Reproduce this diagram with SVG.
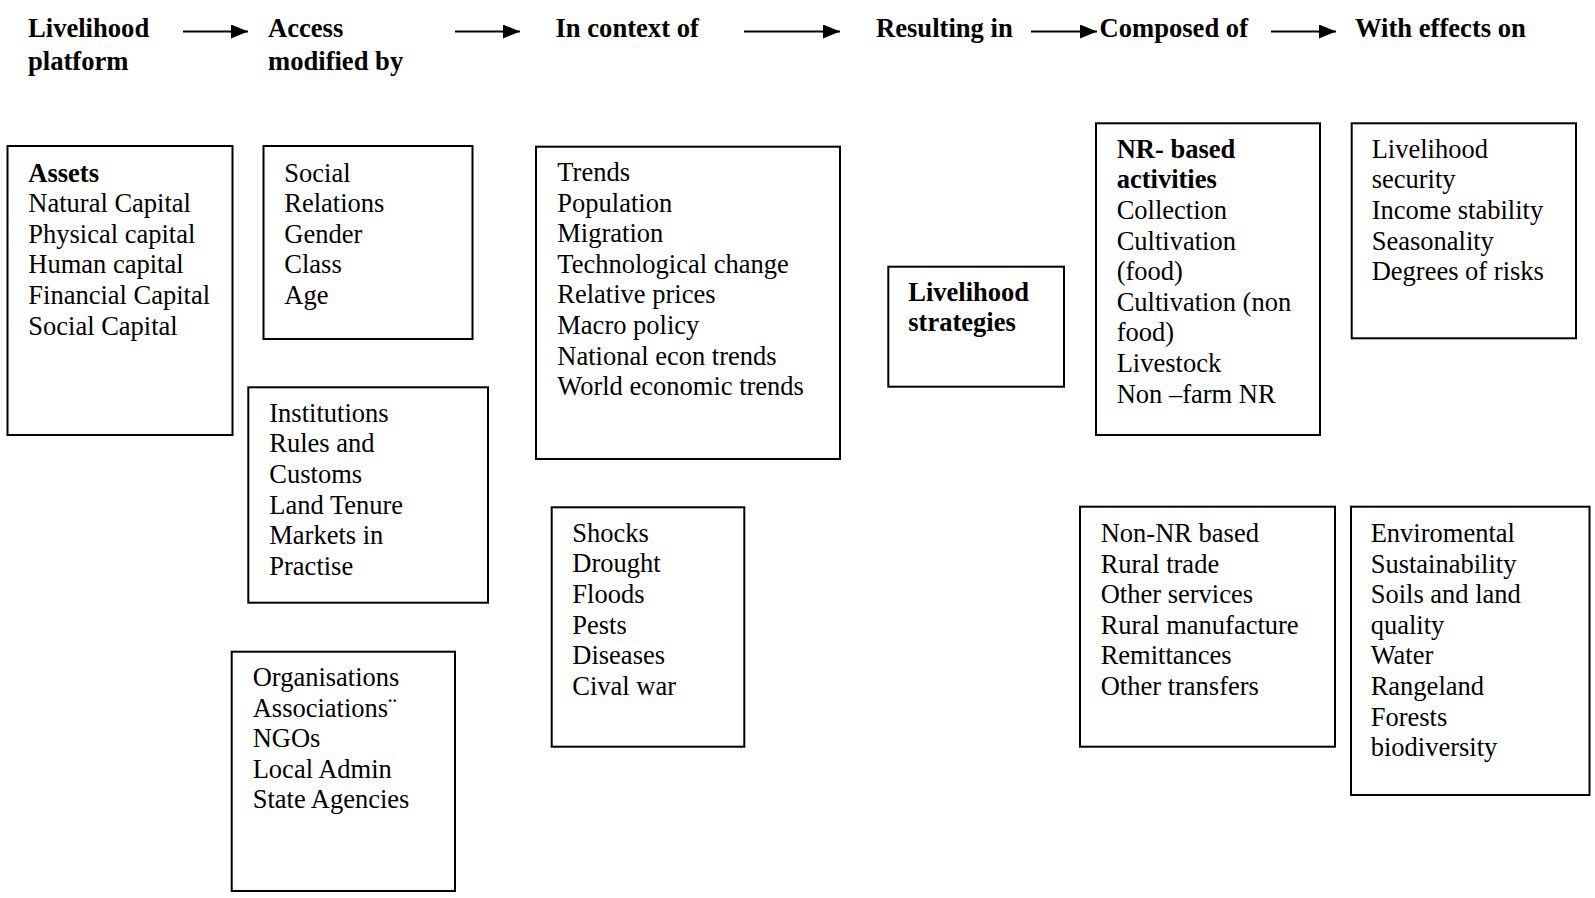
<svg xmlns="http://www.w3.org/2000/svg" width="1595" height="898" viewBox="0 0 1595 898">
<style>
.box{fill:#fff;stroke:#000;stroke-width:2}
.t{font-family:"Liberation Serif","Times New Roman",serif;font-size:26.5px;fill:#000}
.b{font-weight:bold}
.h{font-family:"Liberation Serif","Times New Roman",serif;font-size:26.6px;font-weight:bold;fill:#000}
.arr{stroke:#000;stroke-width:2;fill:none}
</style>
<defs>
<marker id="ah" markerUnits="userSpaceOnUse" markerWidth="18" markerHeight="14" refX="17" refY="7" orient="auto">
<path d="M0,0 L17,7 L0,14 Z" fill="#000"/>
</marker>
</defs>
<rect width="1595" height="898" fill="#fff"/>
<g id="headers">
<text class="h" x="28" y="37">Livelihood<tspan x="28" y="70">platform</tspan></text>
<text class="h" x="268" y="37">Access<tspan x="268" y="70">modified by</tspan></text>
<text class="h" x="555.5" y="37">In context of</text>
<text class="h" x="876" y="37">Resulting in</text>
<text class="h" x="1099.5" y="37">Composed of</text>
<text class="h" x="1355" y="37">With effects on</text>
</g>
<g id="connectors">
<line class="arr" x1="183" y1="31.5" x2="248" y2="31.5" marker-end="url(#ah)"/>
<line class="arr" x1="455" y1="31.5" x2="520" y2="31.5" marker-end="url(#ah)"/>
<line class="arr" x1="744" y1="31.5" x2="840" y2="31.5" marker-end="url(#ah)"/>
<line class="arr" x1="1031" y1="31.5" x2="1097" y2="31.5" marker-end="url(#ah)"/>
<line class="arr" x1="1271" y1="31.5" x2="1336" y2="31.5" marker-end="url(#ah)"/>
</g>
<g id="assets">
<rect class="box" x="7.5" y="146" width="225" height="289"/>
<text class="t" y="181.5"><tspan class="b" x="28.3">Assets</tspan><tspan x="28.3" dy="30.6">Natural Capital</tspan><tspan x="28.3" dy="30.6">Physical capital</tspan><tspan x="28.3" dy="30.6">Human capital</tspan><tspan x="28.3" dy="30.6">Financial Capital</tspan><tspan x="28.3" dy="30.6">Social Capital</tspan></text>
</g>
<g id="social">
<rect class="box" x="263.5" y="146" width="209" height="193"/>
<text class="t" y="181.5"><tspan x="284.3">Social</tspan><tspan x="284.3" dy="30.6">Relations</tspan><tspan x="284.3" dy="30.6">Gender</tspan><tspan x="284.3" dy="30.6">Class</tspan><tspan x="284.3" dy="30.6">Age</tspan></text>
</g>
<g id="institutions">
<rect class="box" x="248.3" y="387.3" width="239.7" height="215.4"/>
<text class="t" y="421.7"><tspan x="269.3">Institutions</tspan><tspan x="269.3" dy="30.6">Rules and</tspan><tspan x="269.3" dy="30.6">Customs</tspan><tspan x="269.3" dy="30.6">Land Tenure</tspan><tspan x="269.3" dy="30.6">Markets in</tspan><tspan x="269.3" dy="30.6">Practise</tspan></text>
</g>
<g id="organisations">
<rect class="box" x="231.7" y="651.7" width="223.3" height="239.3"/>
<text class="t" y="686"><tspan x="252.7">Organisations</tspan><tspan x="252.7" dy="30.6">Associations¨</tspan><tspan x="252.7" dy="30.6">NGOs</tspan><tspan x="252.7" dy="30.6">Local Admin</tspan><tspan x="252.7" dy="30.6">State Agencies</tspan></text>
</g>
<g id="trends">
<rect class="box" x="536" y="146.7" width="304" height="312.3"/>
<text class="t" y="181"><tspan x="557.3">Trends</tspan><tspan x="557.3" dy="30.6">Population</tspan><tspan x="557.3" dy="30.6">Migration</tspan><tspan x="557.3" dy="30.6">Technological change</tspan><tspan x="557.3" dy="30.6">Relative prices</tspan><tspan x="557.3" dy="30.6">Macro policy</tspan><tspan x="557.3" dy="30.6">National econ trends</tspan><tspan x="557.3" dy="30.6">World economic trends</tspan></text>
</g>
<g id="shocks">
<rect class="box" x="551.7" y="507.3" width="192.6" height="239.4"/>
<text class="t" y="541.7"><tspan x="572.3">Shocks</tspan><tspan x="572.3" dy="30.6">Drought</tspan><tspan x="572.3" dy="30.6">Floods</tspan><tspan x="572.3" dy="30.6">Pests</tspan><tspan x="572.3" dy="30.6">Diseases</tspan><tspan x="572.3" dy="30.6">Cival war</tspan></text>
</g>
<g id="strategies">
<rect class="box" x="888.3" y="266.7" width="175.7" height="120"/>
<text class="t b" y="300.5"><tspan x="908.3">Livelihood</tspan><tspan x="908.3" dy="30.4">strategies</tspan></text>
</g>
<g id="nr-based">
<rect class="box" x="1096" y="123.3" width="224" height="311.7"/>
<text class="t" y="158"><tspan class="b" x="1116.7">NR- based</tspan><tspan class="b" x="1116.7" dy="30.4">activities</tspan><tspan x="1116.7" dy="30.6">Collection</tspan><tspan x="1116.7" dy="30.6">Cultivation</tspan><tspan x="1116.7" dy="30.6">(food)</tspan><tspan x="1116.7" dy="30.6">Cultivation (non</tspan><tspan x="1116.7" dy="30.6">food)</tspan><tspan x="1116.7" dy="30.6">Livestock</tspan><tspan x="1116.7" dy="30.6">Non –farm NR</tspan></text>
</g>
<g id="security">
<rect class="box" x="1351.7" y="123.3" width="224.3" height="215"/>
<text class="t" y="158"><tspan x="1371.7">Livelihood</tspan><tspan x="1371.7" dy="30.4">security</tspan><tspan x="1371.7" dy="30.6">Income stability</tspan><tspan x="1371.7" dy="30.6">Seasonality</tspan><tspan x="1371.7" dy="30.6">Degrees of risks</tspan></text>
</g>
<g id="non-nr">
<rect class="box" x="1080" y="506.7" width="255" height="240"/>
<text class="t" y="542"><tspan x="1100.7">Non-NR based</tspan><tspan x="1100.7" dy="30.6">Rural trade</tspan><tspan x="1100.7" dy="30.6">Other services</tspan><tspan x="1100.7" dy="30.6">Rural manufacture</tspan><tspan x="1100.7" dy="30.6">Remittances</tspan><tspan x="1100.7" dy="30.6">Other transfers</tspan></text>
</g>
<g id="environment">
<rect class="box" x="1351" y="506.7" width="238.5" height="288.3"/>
<text class="t" y="542"><tspan x="1370.7">Enviromental</tspan><tspan x="1370.7" dy="30.6">Sustainability</tspan><tspan x="1370.7" dy="30.6">Soils and land</tspan><tspan x="1370.7" dy="30.6">quality</tspan><tspan x="1370.7" dy="30.6">Water</tspan><tspan x="1370.7" dy="30.6">Rangeland</tspan><tspan x="1370.7" dy="30.6">Forests</tspan><tspan x="1370.7" dy="30.6">biodiversity</tspan></text>
</g>
</svg>
